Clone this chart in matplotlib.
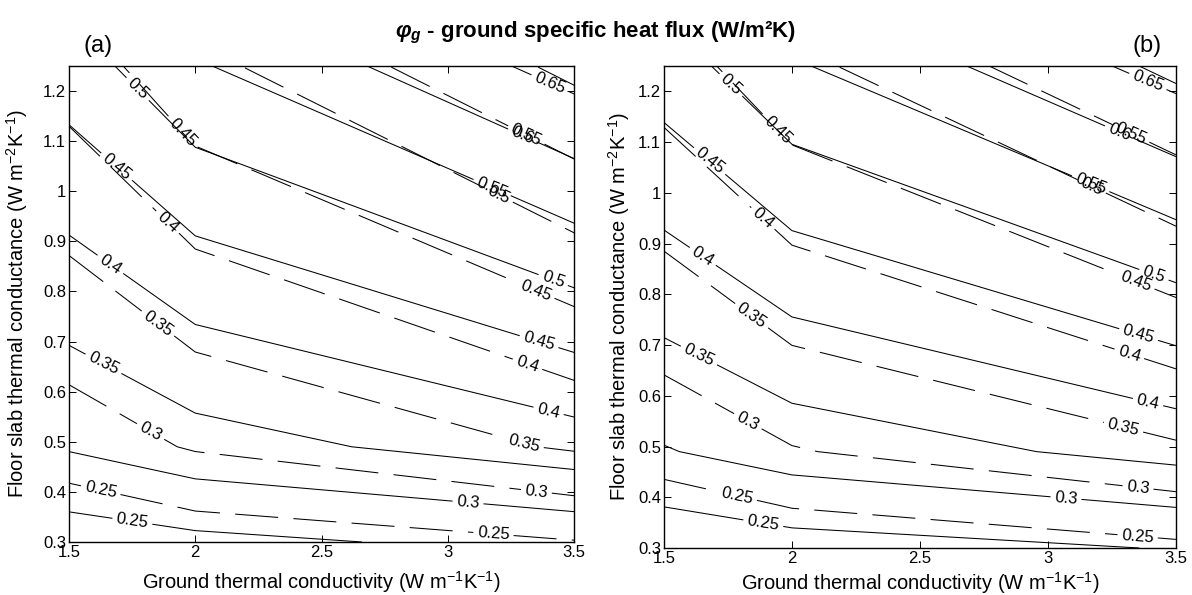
import numpy as np
import matplotlib
matplotlib.use("Agg")
import matplotlib.pyplot as plt
from matplotlib.ticker import FormatStrFormatter, MultipleLocator

plt.rcParams['font.family'] = ['Liberation Sans', 'DejaVu Sans']
plt.rcParams['mathtext.fontset'] = 'custom'
plt.rcParams['mathtext.rm'] = 'Liberation Sans'
plt.rcParams['mathtext.it'] = 'Liberation Sans:italic:bold'
plt.rcParams['mathtext.bf'] = 'Liberation Sans:bold'
plt.rcParams['lines.scale_dashes'] = False

# grid of the two variables
ground_k = [1.5, 2.0, 3.5]       # W m-1 K-1
slab_u = [0.3, 0.49, 1.3]        # W m-2 K-1

levels = [0.25, 0.3, 0.35, 0.4, 0.45, 0.5, 0.55, 0.6, 0.65]

# phi_g values, rows = slab_u, cols = ground_k
phi_a_solid = [[0.225, 0.239, 0.264],
               [0.304, 0.331, 0.377],
               [0.488, 0.560, 0.691]]
phi_a_dashed = [[0.208, 0.224, 0.248],
                [0.276, 0.304, 0.355],
                [0.433, 0.501, 0.630]]
phi_b_solid = [[0.215, 0.231, 0.252],
               [0.297, 0.322, 0.366],
               [0.488, 0.560, 0.692]]
phi_b_dashed = [[0.203, 0.217, 0.241],
                [0.269, 0.297, 0.342],
                [0.435, 0.502, 0.630]]

# where the contour labels sit
lab_a_solid = [(1.75, 0.338), (3.08, 0.378), (1.63, 0.649), (1.656, 0.848), (3.397, 0.557),
               (1.676, 1.041), (3.357, 0.692), (1.754, 1.194), (3.417, 0.822), (3.17, 1.0),
               (3.29, 1.105), (3.397, 1.206)]
lab_a_dashed = [(1.623, 0.397), (3.18, 0.31), (1.815, 0.513), (3.35, 0.397), (1.855, 0.738),
                (3.30, 0.493), (1.888, 0.937), (3.317, 0.657), (1.96, 1.121), (3.341, 0.792),
                (3.2, 0.99), (3.3, 1.1)]
lab_b_solid = [(1.887, 0.345), (3.07, 0.394), (1.627, 0.669), (1.641, 0.866), (3.39, 0.585),
               (1.668, 1.056), (3.35, 0.713), (1.75, 1.206), (3.41, 0.832), (3.16, 1.009),
               (3.28, 1.121), (3.39, 1.219)]
lab_b_dashed = [(1.785, 0.40), (3.35, 0.32), (1.824, 0.546), (3.35, 0.41), (1.848, 0.762),
                (3.29, 0.526), (1.887, 0.95), (3.31, 0.669), (1.953, 1.127), (3.33, 0.807),
                (3.16, 1.0), (3.31, 1.10)]


def fmt(v):
    return f'{v:g}'


def draw_panel(ax, solid, dashed, lab_solid, lab_dashed, xlab_y, ylab_x):
    X, Y = np.meshgrid(ground_k, slab_u)
    cs1 = ax.contour(X, Y, np.array(solid), levels=levels, colors='k', linewidths=0.75)
    cs2 = ax.contour(X, Y, np.array(dashed), levels=levels, colors='k', linewidths=0.75)
    cs2.set_linestyle((0, (31, 11)))
    ax.clabel(cs1, fmt=fmt, fontsize=12, inline=True, inline_spacing=4, manual=lab_solid)
    ax.clabel(cs2, fmt=fmt, fontsize=12, inline=True, inline_spacing=4, manual=lab_dashed)

    ax.set_xlim(1.5, 3.5)
    ax.set_ylim(0.3, 1.25)
    ax.xaxis.set_major_locator(MultipleLocator(0.5))
    ax.yaxis.set_major_locator(MultipleLocator(0.1))
    ax.xaxis.set_major_formatter(FormatStrFormatter('%g'))
    ax.yaxis.set_major_formatter(FormatStrFormatter('%g'))
    ax.tick_params(direction='in', top=True, right=True, length=5, width=0.7,
                   labelsize=12, pad=2)
    for s in ax.spines.values():
        s.set_linewidth(1.0)
    ax.set_xlabel('Ground thermal conductivity (W m$^{-1}$K$^{-1}$)', fontsize=14.5)
    ax.set_ylabel('Floor slab thermal conductance (W m$^{-2}$K$^{-1}$)', fontsize=14.5)
    ax.xaxis.set_label_coords(0.5, xlab_y)
    ax.yaxis.set_label_coords(ylab_x, 0.5)


fig = plt.figure(figsize=(11.92, 5.95), dpi=100)
ax_a = fig.add_axes([0.0579, 0.0891, 0.4237, 0.80])
ax_b = fig.add_axes([0.5570, 0.0790, 0.4295, 0.81])

draw_panel(ax_a, phi_a_solid, phi_a_dashed, lab_a_solid, lab_a_dashed, -0.057, -0.077)
draw_panel(ax_b, phi_b_solid, phi_b_dashed, lab_b_solid, lab_b_dashed, -0.045, -0.062)

fig.text(0.5, 0.945, r'$\varphi_g$ - ground specific heat flux (W/m²K)',
         ha='center', va='center', fontsize=16, fontweight='bold')
fig.text(0.082, 0.922, '(a)', ha='center', va='center', fontsize=17)
fig.text(0.9625, 0.922, '(b)', ha='center', va='center', fontsize=17)

fig.savefig('out.png', dpi=100)
